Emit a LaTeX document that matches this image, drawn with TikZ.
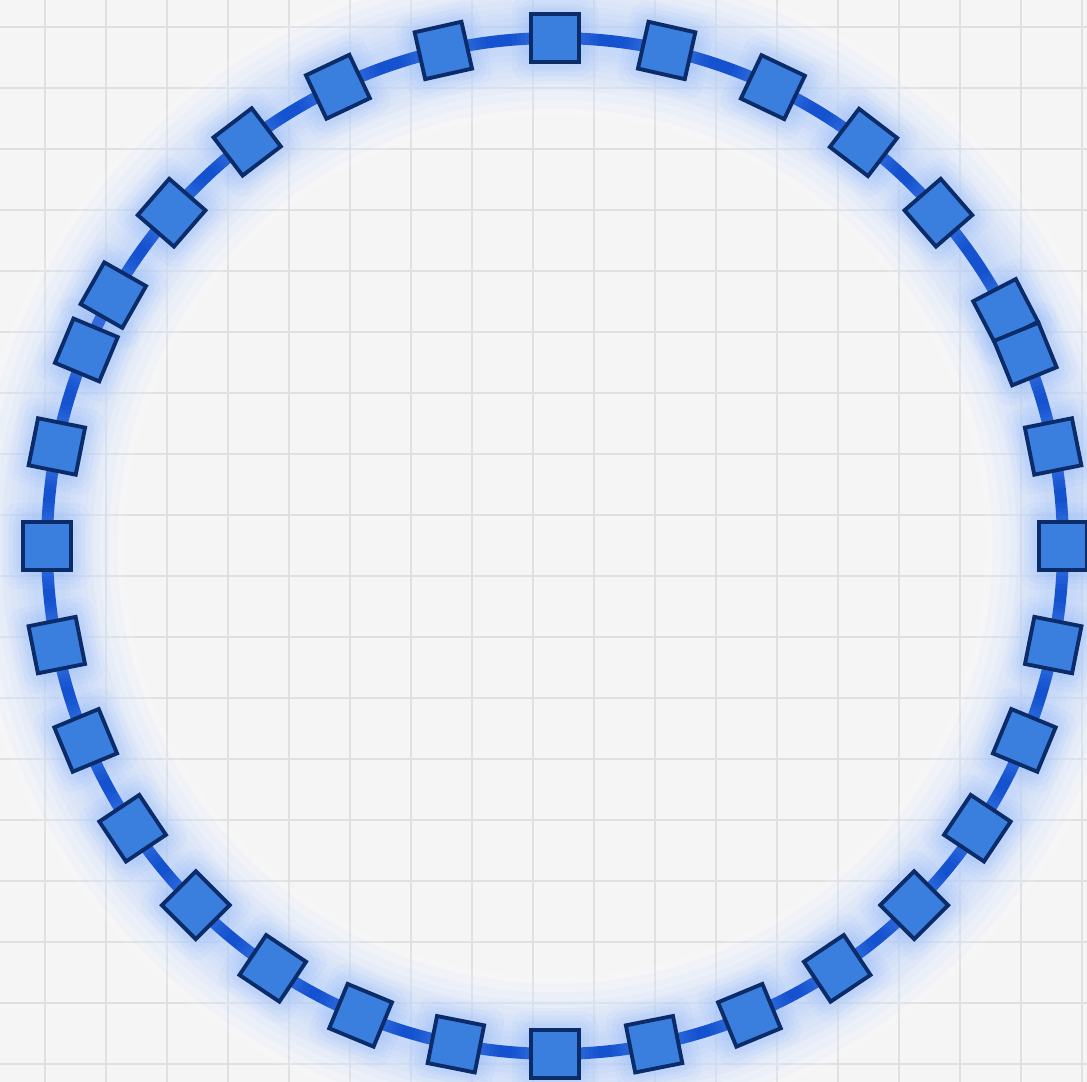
\documentclass[tikz,border=0pt]{standalone}
\usepackage{tikz}
\usetikzlibrary{
    positioning,
    backgrounds
}
\definecolor{paper}{RGB}{245,245,246}
\definecolor{gridline}{RGB}{224,224,227}
\definecolor{ringblue}{RGB}{20,82,208}
\definecolor{tileblue}{RGB}{58,126,222}
\definecolor{tileedge}{RGB}{12,44,105}
\definecolor{haze}{RGB}{110,165,255}
\tikzset{
    line cap=round,
    line join=round,
    gridrule/.style={
        draw=gridline,
        line width=0.6pt
    },
    ring/.style={
        draw=ringblue,
        line width=3.4pt
    },
    ringmist/.style={
        draw=white,
        opacity=0.14
    },
    ringhalo/.style={
        draw=haze,
        opacity=0.045
    },
    tile/.style={
        rectangle,
        draw=tileedge,
        fill=tileblue,
        line width=1.1pt,
        minimum size=0.48cm,
        inner sep=0pt
    },
    tilehalo/.style={
        rectangle,
        rounded corners=4pt,
        fill=haze,
        opacity=0.06,
        inner sep=0pt
    }
}

\begin{document}
\begin{tikzpicture}[
    show background rectangle,
    background rectangle/.style={fill=paper},
    inner frame sep=0pt
]

\def\radius{5.08}
\def\tileangles{90, 77.3, 64.6, 52.6, 41, 27.5, 22.2, 11.3, 0,
        -11.25, -22.5, -33.75, -45, -56.25, -67.5, -78.75, -90,
        -101.25, -112.5, -123.75, -135, -146.25, -157.5, -168.75, 180,
        168.7, 157.3, 150.4, 139, 127.3, 115.3, 102.7}
\useasboundingbox (-5.55,-5.36) rectangle (5.32,5.46);

% Grid
\foreach \k in {0,...,17} {
    \draw[gridrule] (-5.10+0.61*\k, -5.36) -- ++(0, 10.82);
    \draw[gridrule] (-5.55, 5.19-0.61*\k) -- ++(10.87, 0);
}

% Soft glow round the ring
\foreach \w in {44pt, 38pt, 32pt, 27pt, 22pt, 18pt} {
    \draw[ringmist, line width=\w] (0,0) circle (\radius);
}
\foreach \w in {40pt, 35pt, 30pt, 26pt, 22pt, 18pt, 15pt, 12pt, 9pt} {
    \draw[ringhalo, line width=\w] (0,0) circle (\radius);
}
\draw[ring] (0,0) circle (\radius);

% Tiles on the ring
\foreach \a in \tileangles {
    \foreach \s in {0.86, 0.76, 0.68, 0.60} {
        \node[tilehalo, minimum size=\s cm, rotate=\a] at (\a:\radius) {};
    }
}
\foreach \a [count=\i] in \tileangles {
    \node[tile, rotate=\a] (t\i) at (\a:\radius) {};
}

\end{tikzpicture}
\end{document}
